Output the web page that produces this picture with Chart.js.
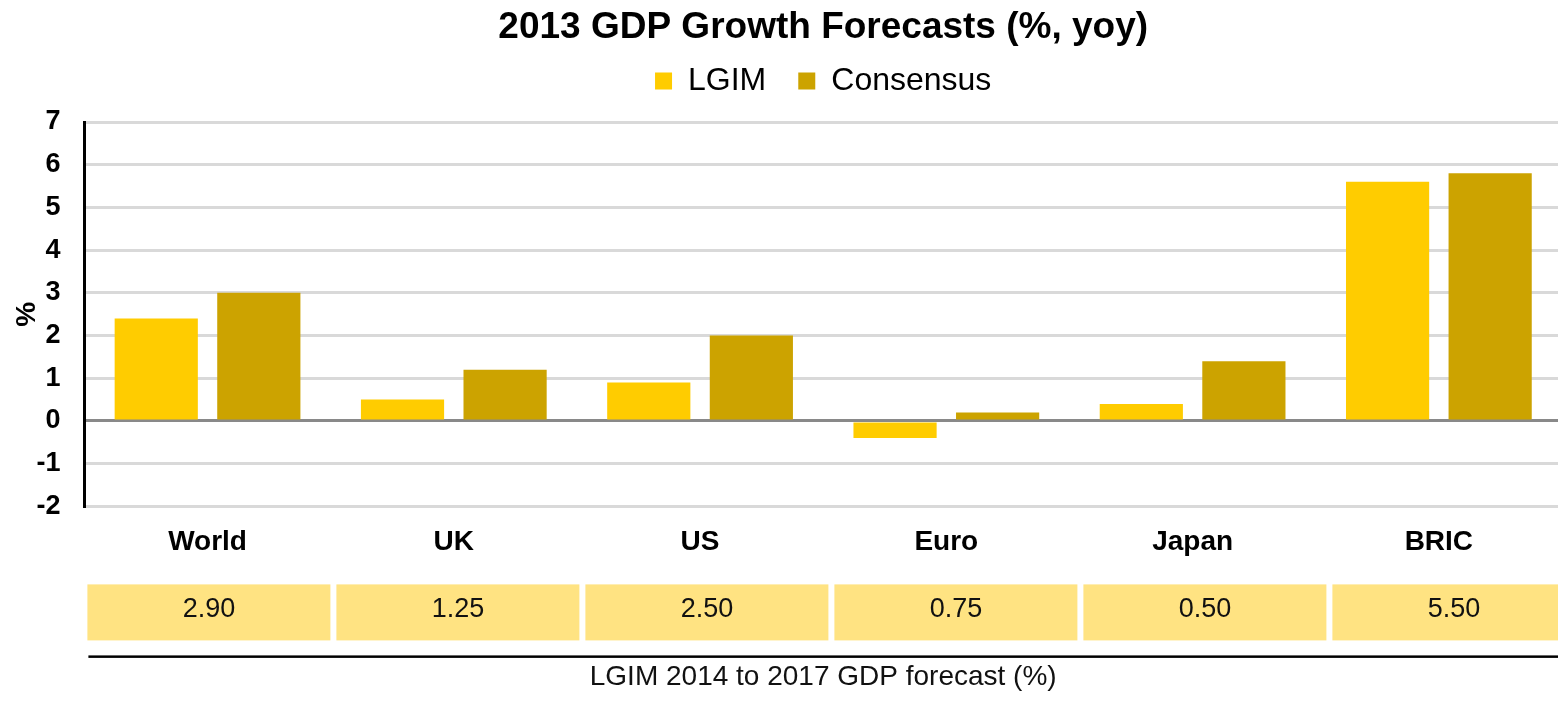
<!DOCTYPE html>
<html>
<head>
<meta charset="utf-8">
<title>2013 GDP Growth Forecasts</title>
<script src="https://cdn.jsdelivr.net/npm/chart.js@4/dist/chart.umd.min.js"></script>
<style>
  html, body { margin: 0; padding: 0; background: #fff; overflow: hidden; }
  #wrap { width: 1562px; height: 701px; position: relative; }
</style>
</head>
<body>
<div id="wrap"><canvas id="gdp"></canvas></div>
<script>
// Regions on the category axis
const regions = ['World', 'UK', 'US', 'Euro', 'Japan', 'BRIC'];
// 2013 GDP growth forecasts, % yoy
const lgim2013 = [2.4, 0.5, 0.9, -0.4, 0.4, 5.6];
const consensus2013 = [3.0, 1.2, 2.0, 0.2, 1.4, 5.8];
// LGIM average 2014-2017 GDP forecast, shown in the strip under the chart
const lgim2014to2017 = [2.90, 1.25, 2.50, 0.75, 0.50, 5.50];
// Value axis range
const yMin = -2;
const yMax = 7;
const yStep = 1;

const chartTitle = '2013 GDP Growth Forecasts (%, yoy)';
const stripCaption = 'LGIM 2014 to 2017 GDP forecast (%)';
const FONT = '"Liberation Sans", Arial, Helvetica, sans-serif';

// Draws the strip of forecast cells, the rule and its caption below the x axis
const forecastStrip = {
  id: 'forecastStrip',
  afterDraw(chart) {
    const { ctx, chartArea } = chart;
    const x0 = chartArea.left + 3;
    const pitch = 249;
    const cellW = 243;
    const cellTop = chartArea.bottom + 78;
    const cellH = 56;
    ctx.save();
    ctx.textAlign = 'center';
    ctx.textBaseline = 'alphabetic';
    ctx.font = '27px ' + FONT;
    lgim2014to2017.forEach((v, i) => {
      const x = x0 + i * pitch;
      ctx.fillStyle = '#FFE382';
      ctx.fillRect(x, cellTop, cellW, cellH);
      ctx.fillStyle = '#111';
      ctx.fillText(v.toFixed(2), x + cellW / 2, cellTop + 33);
    });
    ctx.fillStyle = '#000';
    ctx.fillRect(chartArea.left + 4, cellTop + cellH + 15, chart.width, 2.5);
    ctx.font = '28px ' + FONT;
    ctx.fillStyle = '#111';
    ctx.fillText(stripCaption, (chartArea.left + chartArea.right) / 2, cellTop + cellH + 45);
    ctx.restore();
  }
};

new Chart(document.getElementById('gdp'), {
  type: 'bar',
  data: {
    labels: regions,
    datasets: [
      { label: 'LGIM', data: lgim2013, backgroundColor: '#FFCC00' },
      { label: 'Consensus', data: consensus2013, backgroundColor: '#CCA300' }
    ]
  },
  options: {
    responsive: true,
    maintainAspectRatio: false,
    animation: false,
    layout: { padding: { top: 0, bottom: 122, left: 0, right: 0 } },
    datasets: { bar: { categoryPercentage: 0.833, barPercentage: 0.811 } },
    plugins: {
      title: {
        display: true,
        text: chartTitle,
        fullSize: false,
        color: '#000',
        font: { family: FONT, size: 37, weight: 'bold' },
        padding: { top: 5.8, bottom: -17.2 }
      },
      // empty spacer box between the legend and the plot area
      subtitle: {
        display: true,
        text: '',
        fullSize: false,
        weight: 500,
        font: { family: FONT, size: 10 },
        padding: { top: 3, bottom: 0 }
      },
      legend: {
        fullSize: false,
        labels: {
          boxWidth: 17,
          boxHeight: 17,
          padding: 32,
          color: '#000',
          font: { family: FONT, size: 32 }
        }
      },
      tooltip: { enabled: false }
    },
    scales: {
      x: {
        grid: { display: false, drawTicks: false },
        border: { display: false },
        ticks: { color: '#000', padding: 19.5, font: { family: FONT, size: 28, weight: 'bold' } }
      },
      y: {
        min: yMin,
        max: yMax,
        ticks: { stepSize: yStep, color: '#000', padding: 24, font: { family: FONT, size: 27, weight: 'bold' } },
        grid: {
          drawTicks: false,
          lineWidth: 3,
          color: (c) => (c.tick && c.tick.value === 0 ? '#898989' : '#D9D9D9')
        },
        border: { display: true, color: '#000', width: 3 },
        title: {
          display: true,
          text: '%',
          color: '#000',
          padding: { top: 10, bottom: 0 },
          font: { family: FONT, size: 28, weight: 'bold' }
        },
        afterFit(scale) { scale.width = 84.4; }
      }
    }
  },
  plugins: [forecastStrip]
});
</script>
</body>
</html>
